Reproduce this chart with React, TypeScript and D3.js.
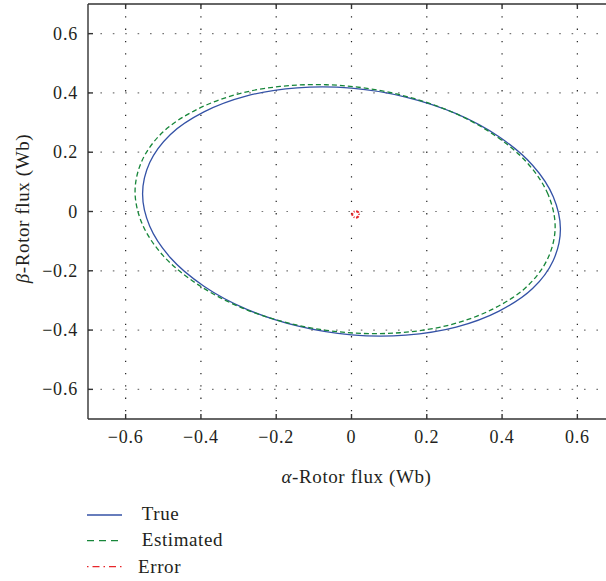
import * as d3 from "d3";

const width = 606;
const height = 581;

// plot box (right edge runs past the picture, as in the reference)
const left = 88;
const right = 615;
const top = 4;
const bottom = 419;

const tickValues = [-0.6, -0.4, -0.2, 0, 0.2, 0.4, 0.6];

// alpha / beta rotor flux (closed loops)
const trueAlpha = [0.555, 0.536, 0.481, 0.392, 0.278, 0.144, 0.0, -0.144, -0.278, -0.392, -0.481, -0.536, -0.555, -0.536, -0.481, -0.392, -0.278, -0.144, 0.0, 0.144, 0.278, 0.392, 0.481, 0.536];
const trueBeta = [-0.06, 0.05, 0.156, 0.252, 0.33, 0.386, 0.416, 0.417, 0.39, 0.336, 0.26, 0.165, 0.06, -0.05, -0.156, -0.252, -0.33, -0.386, -0.416, -0.417, -0.39, -0.336, -0.26, -0.165];

const estAlpha = [0.541, 0.522, 0.467, 0.377, 0.263, 0.128, -0.017, -0.162, -0.297, -0.411, -0.501, -0.556, -0.575, -0.556, -0.501, -0.411, -0.297, -0.162, -0.017, 0.128, 0.263, 0.377, 0.467, 0.522];
const estBeta = [-0.052, 0.058, 0.164, 0.26, 0.338, 0.394, 0.424, 0.425, 0.398, 0.344, 0.268, 0.173, 0.068, -0.042, -0.148, -0.244, -0.322, -0.378, -0.408, -0.409, -0.382, -0.328, -0.252, -0.157];

const errAlpha = [0.02, 0.019, 0.015, 0.01, 0.006, 0.003, 0.002, 0.004, 0.008, 0.012, 0.016, 0.019];
const errBeta = [-0.011, -0.004, 0.0, 0.001, -0.001, -0.005, -0.01, -0.016, -0.02, -0.021, -0.019, -0.015];

const series = [
  { name: "True", a: trueAlpha, b: trueBeta, color: "#3452a6", width: 1.3, dash: null, legendDash: null },
  { name: "Estimated", a: estAlpha, b: estBeta, color: "#17863a", width: 1.3, dash: "5,3", legendDash: "7,5" },
  { name: "Error", a: errAlpha, b: errBeta, color: "#e8262b", width: 2, dash: "3,1.5,1,1.5", legendDash: "1.5,4,7,4" },
];

const font = "'Liberation Serif', 'Times New Roman', serif";
const textColor = "#231f20";

export default function App() {
  const x = d3.scaleLinear().domain([-0.7, 0.7]).range([left, right]);
  const y = d3.scaleLinear().domain([-0.7, 0.7]).range([bottom, top]);

  const line = d3
    .line<[number, number]>()
    .x((d) => x(d[0]))
    .y((d) => y(d[1]))
    .curve(d3.curveCatmullRomClosed);

  const fmt = (v: number) => (v === 0 ? "0" : d3.format(".1f")(v));

  return (
    <svg
      width={width}
      height={height}
      viewBox={`0 0 ${width} ${height}`}
      style={{ position: "absolute", left: 0, top: 0, background: "#fff" }}
    >
      <defs>
        <clipPath id="plot-clip">
          <rect x={left} y={top} width={right - left} height={bottom - top} />
        </clipPath>
      </defs>

      {/* dotted grid */}
      <g className="grid">
        {tickValues.map((t) => (
          <line
            key={"gx" + t}
            x1={x(t)}
            x2={x(t)}
            y1={top}
            y2={bottom}
            stroke="#222"
            strokeWidth={1.2}
            strokeDasharray="1.3,11"
          />
        ))}
        {tickValues.map((t) => (
          <line
            key={"gy" + t}
            x1={left}
            x2={right}
            y1={y(t)}
            y2={y(t)}
            stroke="#777"
            strokeWidth={1.2}
            strokeDasharray="1.6,10.8"
          />
        ))}
      </g>

      {/* curves */}
      <g clipPath="url(#plot-clip)">
        {series.map((s) => (
          <path
            key={s.name}
            d={line(s.a.map((v, i) => [v, s.b[i]] as [number, number])) || ""}
            fill="none"
            stroke={s.color}
            strokeWidth={s.width}
            strokeDasharray={s.dash || undefined}
          />
        ))}
      </g>

      {/* axes frame and inward ticks */}
      <g className="axes" stroke="#333" strokeWidth={1.4}>
        <line x1={left} x2={left} y1={top} y2={bottom} />
        <line x1={left} x2={width} y1={top} y2={top} />
        <line x1={left} x2={width} y1={bottom} y2={bottom} />
        {tickValues.map((t) => (
          <g key={"t" + t}>
            <line x1={x(t)} x2={x(t)} y1={bottom} y2={bottom - 5} />
            <line x1={x(t)} x2={x(t)} y1={top} y2={top + 5} />
            <line x1={left} x2={left + 5} y1={y(t)} y2={y(t)} />
          </g>
        ))}
      </g>

      {/* tick labels */}
      <g fontFamily={font} fontSize={18} fill={textColor} letterSpacing={0.8}>
        {tickValues.map((t) => (
          <text key={"xl" + t} x={x(t)} y={443} textAnchor="middle">
            {fmt(t)}
          </text>
        ))}
        {tickValues.map((t) => (
          <text key={"yl" + t} x={78} y={y(t) + 6} textAnchor="end">
            {fmt(t)}
          </text>
        ))}
      </g>

      {/* axis titles */}
      <text
        x={356.5}
        y={482.5}
        textAnchor="middle"
        fontFamily={font}
        fontSize={19}
        fill={textColor}
        letterSpacing={0.6}
      >
        <tspan fontStyle="italic">α</tspan>-Rotor flux (Wb)
      </text>
      <text
        transform={`translate(28.5,208.5) rotate(-90)`}
        textAnchor="middle"
        fontFamily={font}
        fontSize={19}
        fill={textColor}
        letterSpacing={0.6}
      >
        <tspan fontStyle="italic">β</tspan>-Rotor flux (Wb)
      </text>

      {/* legend */}
      <g className="legend" fontFamily={font} fontSize={19} fill={textColor} letterSpacing={0.6}>
        {series.map((s, i) => {
          const ly = [515, 540.7, 566.7][i];
          const tx = [141.7, 141.7, 138][i];
          return (
            <g key={"lg" + s.name}>
              <line
                x1={87}
                x2={122}
                y1={ly}
                y2={ly}
                stroke={s.color}
                strokeWidth={1.3}
                strokeDasharray={s.legendDash || undefined}
              />
              <text x={tx} y={ly + 4.5 + i * 0.8}>
                {s.name}
              </text>
            </g>
          );
        })}
      </g>
    </svg>
  );
}
